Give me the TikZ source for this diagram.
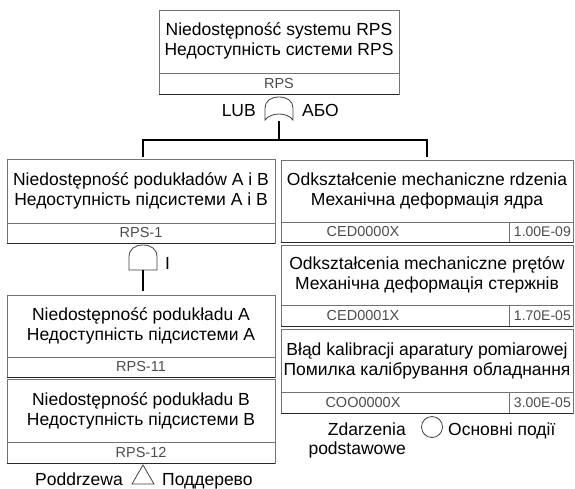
\documentclass[tikz,border=0pt]{standalone}
\usepackage{fontspec}
\setmainfont{Liberation Sans}
\begin{document}
\begin{tikzpicture}[x=1pt,y=-1pt,
  frame/.style={draw=black!55, line width=0.8pt, rectangle, inner sep=0pt},
  baseline rule/.style={draw=black!85, line width=1.6pt},
  divider/.style={draw=black!55, line width=0.8pt},
  ttl/.style={font=\fontsize{17.5}{20}\selectfont, align=center, inner sep=0pt},
  idt/.style={font=\fontsize{14.5}{16}\selectfont, text=black!70, inner sep=0pt},
  valt/.style={font=\fontsize{14}{15}\selectfont, text=black!70, inner sep=0pt},
  wire/.style={draw=black, line width=2.8pt},
  gate/.style={draw=black!75, line width=0.8pt, fill=white},
  lbl/.style={font=\fontsize{17.5}{19}\selectfont, inner sep=0pt},
]
\useasboundingbox (0,0) rectangle (575,488);

% ---------- top event ----------
\node[frame, minimum width=240pt, minimum height=84pt] (top) at (279,52) {};
\draw[divider] (159,73) -- (399,73);
\draw[baseline rule] (top.south west) -- (top.south east);
\node[ttl] (topt) at (279,41) {Niedostępność systemu RPS\\Недоступність системи RPS};
\node[idt] (topid) at (279,83.5) {RPS};

% OR gate
\draw[gate] (265,120) -- (265,108) .. controls (265,101) and (271,97) .. (279,97)
  .. controls (287,97) and (293,101) .. (293,108) -- (293,120)
  .. controls (287,112) and (271,112) .. cycle;
\coordinate (orout) at (279,121);
\node[lbl, anchor=base east] (lub) at (256,116) {LUB};
\node[lbl, anchor=base west] (abo) at (302,116) {АБО};

% connectors below the OR gate
\coordinate (split) at (279,140);
\coordinate (dropL) at (143,157);
\coordinate (dropR) at (427,157);
\draw[wire] (orout) -- (split);
\draw[wire] (dropL) |- (split) -| (dropR);

% ---------- left column ----------
\node[frame, minimum width=268pt, minimum height=84pt] (rps1) at (141,201) {};
\draw[divider] (7,223) -- (275,223);
\draw[baseline rule] (rps1.south west) -- (rps1.south east);
\node[ttl] (rps1t) at (141,191) {Niedostępność podukładów A i B\\Недоступність підсистеми A i B};
\node[idt] (rps1id) at (141,233) {RPS-1};

% AND gate
\draw[gate] (129,270) -- (129,257) .. controls (129,249) and (135,245) .. (143,245)
  .. controls (151,245) and (157,249) .. (157,257) -- (157,270) -- cycle;
\coordinate (andout) at (143,270);
\coordinate (andend) at (143,291);
\draw[wire] (andout) -- (andend);
\node[lbl, anchor=base west] (andlbl) at (165,269) {I};

\node[frame, minimum width=268pt, minimum height=82pt] (rps11) at (141,336) {};
\draw[divider] (7,357) -- (275,357);
\draw[baseline rule] (rps11.south west) -- (rps11.south east);
\node[ttl] (rps11t) at (141,326) {Niedostępność podukładu A\\Недоступність підсистеми A};
\node[idt] (rps11id) at (141,367) {RPS-11};

\node[frame, minimum width=268pt, minimum height=84pt] (rps12) at (141,421) {};
\draw[divider] (7,442) -- (275,442);
\draw[baseline rule] (rps12.south west) -- (rps12.south east);
\node[ttl] (rps12t) at (141,410.5) {Niedostępność podukładu B\\Недоступність підсистеми B};
\node[idt] (rps12id) at (141,452.5) {RPS-12};

% subtree symbol
\draw[gate, fill=none] (143,465) -- (154,484) -- (132,484) -- cycle;
\node[lbl, anchor=base east] (subpl) at (123,485) {Poddrzewa};
\node[lbl, anchor=base west] (subua) at (162,485) {Поддерево};

% ---------- right column ----------
\node[frame, minimum width=292pt, minimum height=82pt] (ev1) at (427,201) {};
\draw[divider] (281,222) -- (573,222);
\draw[divider] (509,222) -- (509,242);
\draw[baseline rule] (ev1.south west) -- (ev1.south east);
\node[ttl] (ev1t) at (427,191) {Odkształcenie mechaniczne rdzenia\\Механічна деформація ядра};
\node[idt] (ev1id) at (363,232) {CED0000X};
\node[valt, anchor=east] (ev1p) at (571,232) {1.00E-09};

\node[frame, minimum width=292pt, minimum height=81pt] (ev2) at (427,285.5) {};
\draw[divider] (281,305) -- (573,305);
\draw[divider] (509,305) -- (509,326);
\draw[baseline rule] (ev2.south west) -- (ev2.south east);
\node[ttl] (ev2t) at (427,275) {Odkształcenia mechaniczne prętów\\Механічна деформація стержнів};
\node[idt] (ev2id) at (363,315.5) {CED0001X};
\node[valt, anchor=east] (ev2p) at (571,315.5) {1.70E-05};

\node[frame, minimum width=292pt, minimum height=84pt] (ev3) at (427,371) {};
\draw[divider] (281,392) -- (573,392);
\draw[divider] (509,392) -- (509,413);
\draw[baseline rule] (ev3.south west) -- (ev3.south east);
\node[ttl] (ev3t) at (427,360.5) {Błąd kalibracji aparatury pomiarowej\\Помилка калібрування обладнання};
\node[idt] (ev3id) at (363,402.5) {COO0000X};
\node[valt, anchor=east] (ev3p) at (571,402.5) {3.00E-05};

% basic event symbol
\node[gate, fill=none, circle, minimum size=21pt, inner sep=0pt] (basicsym) at (432,427) {};
\node[lbl, align=right, anchor=base east] (basicpl) at (406,454) {Zdarzenia\\podstawowe};
\node[lbl, anchor=base west] (basicua) at (448,435) {Основні події};

\end{tikzpicture}
\end{document}
